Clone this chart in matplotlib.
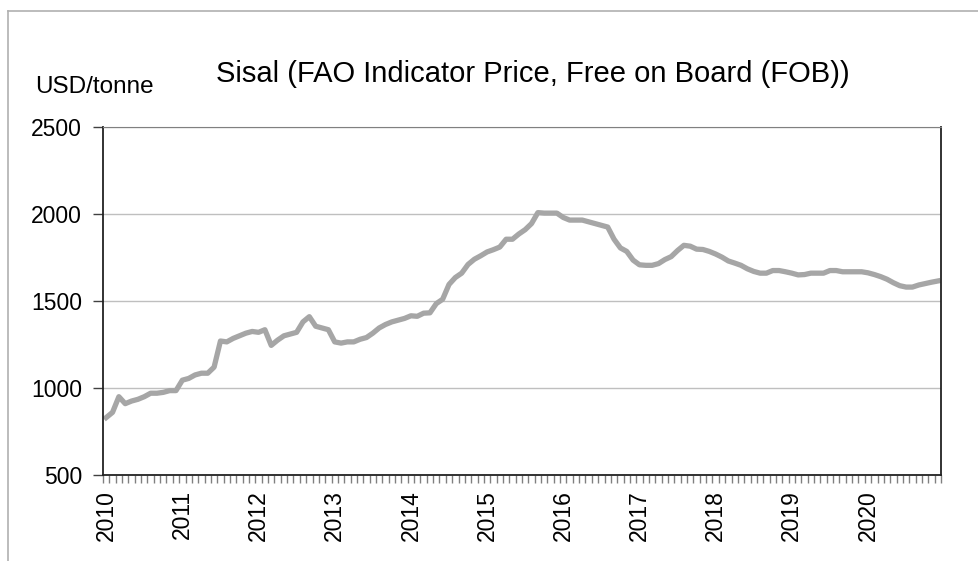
import numpy as np
from matplotlib import pyplot as plt
from matplotlib.lines import Line2D

plt.rcParams['font.family'] = ['Liberation Sans', 'DejaVu Sans']

# monthly FOB price, USD/tonne, Jan..Dec of each year
p2010 = [830, 860, 950, 910, 925, 935, 950, 970, 970, 975, 985, 985]
p2011 = [1045, 1055, 1075, 1085, 1085, 1120, 1270, 1265, 1285, 1300, 1315, 1325]
p2012 = [1320, 1335, 1245, 1275, 1300, 1310, 1320, 1380, 1410, 1355, 1345, 1335]
p2013 = [1265, 1258, 1265, 1265, 1280, 1290, 1315, 1345, 1365, 1380, 1390, 1400]
p2014 = [1415, 1412, 1430, 1432, 1485, 1510, 1595, 1635, 1660, 1710, 1740, 1760]
p2015 = [1782, 1795, 1810, 1855, 1855, 1885, 1910, 1945, 2008, 2005, 2005, 2005]
p2016 = [1980, 1965, 1965, 1965, 1955, 1945, 1935, 1925, 1855, 1805, 1785, 1735]
p2017 = [1708, 1705, 1705, 1715, 1738, 1755, 1790, 1820, 1815, 1798, 1796, 1785]
p2018 = [1770, 1752, 1730, 1718, 1705, 1685, 1670, 1660, 1660, 1675, 1675, 1668]
p2019 = [1660, 1650, 1652, 1660, 1660, 1660, 1675, 1675, 1668, 1668, 1668, 1668]
p2020 = [1662, 1652, 1640, 1625, 1605, 1588, 1580, 1580, 1592, 1600, 1608, 1615]
years = [str(y) for y in range(2010, 2021)]

prices = np.array(p2010 + p2011 + p2012 + p2013 + p2014 + p2015 +
                  p2016 + p2017 + p2018 + p2019 + p2020)
x = np.arange(len(prices))

fig = plt.figure(figsize=(9.79, 5.61), dpi=100)
ax = fig.add_axes([103/979, 1-475/561, 838/979, 348/561])

ax.plot(x, prices, color='#a6a6a6', lw=3.8, solid_joinstyle='round')

ax.set_ylim(500, 2500)
ax.set_yticks(range(500, 2501, 500))
ax.set_xlim(-0.5, len(prices) - 0.5)
ax.grid(axis='y', color='#bfbfbf', lw=1)
ax.set_axisbelow(True)

# year labels at first month, month boundaries as small ticks
ax.set_xticks(np.arange(0, len(prices), 12))
ax.set_xticklabels(years, rotation=90)
ax.set_xticks(np.arange(-0.5, len(prices), 1), minor=True)
ax.tick_params(axis='x', which='major', length=0, pad=11, labelsize=16.5)
ax.tick_params(axis='x', which='minor', length=6, color='#808080', width=1)
ax.tick_params(axis='y', length=7, width=1, color='#404040', pad=8, labelsize=16.5)

for s in ['left', 'bottom', 'right']:
    ax.spines[s].set_color('#222222')
    ax.spines[s].set_linewidth(1.3)
ax.spines['top'].set_color('#808080')

fig.text(0.544, 0.868, 'Sisal (FAO Indicator Price, Free on Board (FOB))',
         ha='center', va='center', fontsize=21)
fig.text(35/979, 1-87/561, 'USD/tonne', ha='left', va='center', fontsize=17.5)

# outer chart frame (cropped on right and bottom)
fig.add_artist(Line2D([8/979, 1], [1-11/561, 1-11/561], color='#b0b0b0', lw=1.2))
fig.add_artist(Line2D([8/979, 8/979], [0, 1-11/561], color='#b0b0b0', lw=1.2))

fig.savefig('out.png', dpi=100)
